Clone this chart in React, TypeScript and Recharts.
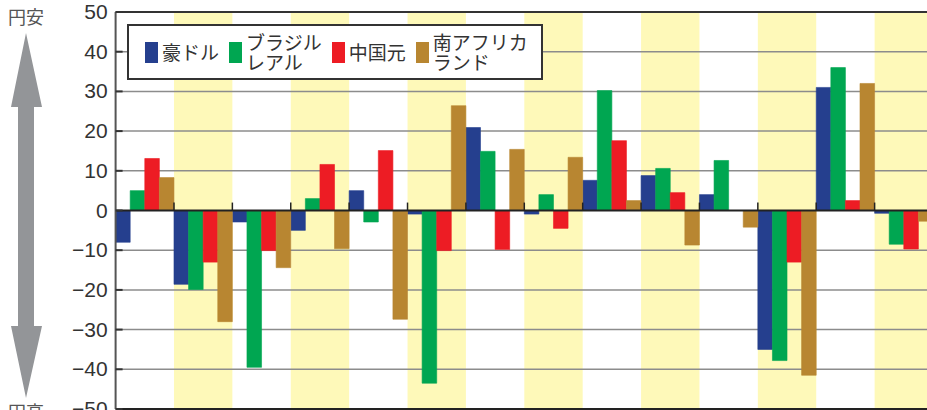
import {
  Bar,
  BarChart,
  ReferenceArea,
  ReferenceLine,
  XAxis,
  YAxis,
} from "recharts";

const categories = ["1", "2", "3", "4", "5", "6", "7", "8", "9", "10", "11", "12", "13", "14"];
const aud = [-8, -18.6, -2.9, -5, 5, -0.9, 20.9, -0.9, 7.6, 8.8, 4, -35, 31, -0.7];
const brl = [5, -19.9, -39.5, 3, -2.9, -43.5, 14.9, 4, 30.2, 10.6, 12.6, -37.8, 36, -8.5];
const cny = [13.1, -13, -10.1, 11.6, 15.1, -10.1, -9.8, -4.5, 17.6, 4.5, 0, -13, 2.5, -9.7];
const zar = [8.3, -28, -14.4, -9.6, -27.4, 26.4, 15.4, 13.4, 2.5, -8.7, -4.2, -41.5, 32, -2.7];
const yTicks = [-50, -40, -30, -20, -10, 0, 10, 20, 30, 40, 50];

const series = [
  { key: "aud", label: ["豪ドル"], color: "#253f8e" },
  { key: "brl", label: ["ブラジル", "レアル"], color: "#00a651" },
  { key: "cny", label: ["中国元"], color: "#ed1c24" },
  { key: "zar", label: ["南アフリカ", "ランド"], color: "#b88631" },
];

const data = categories.map((c, i) => ({
  cat: c,
  aud: aud[i],
  brl: brl[i],
  cny: cny[i],
  zar: zar[i],
}));

const fmt = (v: number) => (v < 0 ? "\u2212" + Math.abs(v) : String(v));

function YTick(props: any) {
  const { x, y, payload } = props;
  return (
    <g>
      <text
        x={x}
        y={y}
        dy={7}
        textAnchor="end"
        fontSize={21}
        fill="#333"
        fontFamily="'Liberation Sans', Arial, sans-serif"
      >
        {fmt(payload.value)}
      </text>
      <line x1={x + 8} x2={x + 15} y1={y} y2={y} stroke="#333" strokeWidth={2} />
    </g>
  );
}

function LegendBox() {
  return (
    <div
      style={{
        position: "absolute",
        left: 127,
        top: 24,
        width: 416,
        height: 56,
        boxSizing: "border-box",
        border: "2px solid #333",
        background: "#fff",
        display: "flex",
        alignItems: "center",
        paddingLeft: 16,
        fontFamily: "'Noto Sans CJK JP', sans-serif",
        fontSize: 19,
        lineHeight: "20px",
        color: "#333",
      }}
    >
      {series.map((s) => (
        <div key={s.key} style={{ display: "flex", alignItems: "center", marginRight: 10 }}>
          <div style={{ width: 13, height: 21, background: s.color, marginRight: 4 }} />
          <div>
            {s.label.map((l) => (
              <div key={l}>{l}</div>
            ))}
          </div>
        </div>
      ))}
    </div>
  );
}

function SideArrow() {
  return (
    <>
      <div
        style={{
          position: "absolute",
          left: 8,
          top: 5,
          fontSize: 18,
          color: "#555",
          fontFamily: "'Noto Sans CJK JP', sans-serif",
          lineHeight: "22px",
        }}
      >
        円安
      </div>
      <svg style={{ position: "absolute", left: 0, top: 0 }} width={60} height={410}>
        <polygon
          points="26,33 42,107 34,107 34,326 42,326 26,398 11,326 18,326 18,107 11,107"
          fill="#939598"
        />
      </svg>
      <div
        style={{
          position: "absolute",
          left: 8,
          top: 400,
          fontSize: 18,
          color: "#555",
          fontFamily: "'Noto Sans CJK JP', sans-serif",
          lineHeight: "22px",
        }}
      >
        円高
      </div>
    </>
  );
}

export default function App() {
  return (
    <div
      style={{
        position: "absolute",
        left: 0,
        top: 0,
        width: 927,
        height: 410,
        overflow: "hidden",
        background: "#fff",
      }}
    >
      <BarChart
        width={940}
        height={430}
        data={data}
        margin={{ top: 12, right: 7, bottom: 20, left: 15.6 }}
        barCategoryGap={0}
        barGap={0}
      >
        {categories
          .filter((_, i) => i % 2 === 1)
          .map((c) => (
            <ReferenceArea key={"band" + c} x1={c} x2={c} fill="#fef9b9" fillOpacity={1} stroke="none" zIndex={50} />
          ))}
        {yTicks
          .filter((t) => t !== 0 && Math.abs(t) !== 50)
          .map((t) => (
            <ReferenceLine key={"g" + t} y={t} stroke="#8c8c8c" strokeWidth={1.5} zIndex={150} />
          ))}
        <XAxis
          dataKey="cat"
          tick={false}
          tickLine={false}
          height={1}
          axisLine={{ stroke: "#222", strokeWidth: 2 }}
        />
        <YAxis
          domain={[-50, 50]}
          ticks={yTicks}
          width={100}
          tickSize={6}
          tickMargin={2}
          tickLine={false}
          tick={<YTick />}
          interval={0}
          axisLine={{ stroke: "#555", strokeWidth: 2 }}
        />
        {series.map((s) => (
          <Bar
            key={s.key}
            dataKey={s.key}
            fill={s.color}
            stroke={s.color}
            strokeWidth={0.6}
            barSize={14.59}
            isAnimationActive={false}
          />
        ))}
        <ReferenceLine y={0} stroke="#222" strokeWidth={2} zIndex={450} />
        <ReferenceLine y={50} stroke="#333" strokeWidth={2} zIndex={450} />
        {categories.slice(1).map((c) => (
          <ReferenceLine
            key={"t" + c}
            segment={[
              { x: c, y: 0 },
              { x: c, y: 2 },
            ]}
            position="start"
            stroke="#222"
            strokeWidth={1.5}
            zIndex={450}
          />
        ))}
      </BarChart>
      <LegendBox />
      <SideArrow />
    </div>
  );
}
